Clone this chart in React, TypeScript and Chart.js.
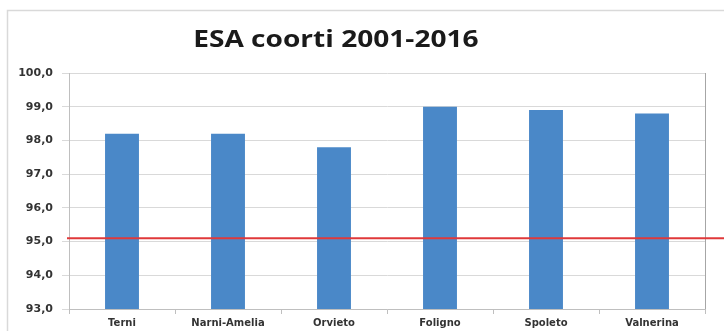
import React, { useEffect, useRef } from "react";
import { Chart, registerables } from "chart.js";

Chart.register(...registerables);

const TITLE = "ESA coorti 2001-2016";
const CATEGORIES = ["Terni", "Narni-Amelia", "Orvieto", "Foligno", "Spoleto", "Valnerina"];
const VALUES = [98.2, 98.2, 97.8, 99.0, 98.9, 98.8];
const THRESHOLD = 95.1;
const Y_MIN = 93;
const Y_MAX = 100;
const Y_STEP = 1;

const TITLE_FONT = "'Open Sans', Lato, sans-serif";
const TICK_FONT = "'DejaVu Sans', 'Open Sans', sans-serif";

export default function App() {
  const ref = useRef<HTMLCanvasElement | null>(null);

  useEffect(() => {
    if (!ref.current) return;
    const decor = {
      id: "decor",
      beforeDraw(chart: any) {
        const ctx = chart.ctx;
        ctx.save();
        ctx.fillStyle = "#ffffff";
        ctx.fillRect(0, 0, chart.width, chart.height);
        ctx.strokeStyle = "#d9d9d9";
        ctx.lineWidth = 1.5;
        ctx.strokeRect(7.5, 10.5, chart.width + 10, chart.height + 10);
        ctx.fillStyle = "#1a1a1a";
        ctx.font = "bold 24px " + TITLE_FONT;
        ctx.textAlign = "center";
        ctx.textBaseline = "middle";
        ctx.translate(chart.width * 0.464, 40);
        ctx.scale(1.17, 1);
        ctx.fillText(TITLE, 0, 0);
        ctx.restore();
      },
      afterDatasetsDraw(chart: any) {
        const ctx = chart.ctx;
        const a = chart.chartArea;
        const y = chart.scales.y.getPixelForValue(THRESHOLD);
        ctx.save();
        ctx.strokeStyle = "#a6a6a6";
        ctx.lineWidth = 1;
        ctx.beginPath();
        ctx.moveTo(Math.round(a.right) + 0.5, a.top);
        ctx.lineTo(Math.round(a.right) + 0.5, a.bottom);
        ctx.stroke();
        ctx.strokeStyle = "#e0393a";
        ctx.lineWidth = 2;
        ctx.beginPath();
        ctx.moveTo(a.left - 2, y);
        ctx.lineTo(chart.width, y);
        ctx.stroke();
        ctx.restore();
      },
    };

    const chart = new Chart(ref.current, {
      type: "bar",
      data: {
        labels: CATEGORIES,
        datasets: [
          {
            data: VALUES,
            backgroundColor: "#4a88c8",
            borderWidth: 0,
            categoryPercentage: 1,
            barPercentage: 0.32,
          },
        ],
      },
      options: {
        animation: false,
        responsive: false,
        layout: { padding: { left: 0, right: 19, top: 73, bottom: 0 } },
        plugins: { legend: { display: false }, title: { display: false }, tooltip: { enabled: false } },
        scales: {
          x: {
            grid: { offset: true, drawOnChartArea: false, tickLength: 5, color: "#bfbfbf" },
            border: { color: "#bfbfbf" },
            ticks: { color: "#333333", font: { family: TICK_FONT, size: 10, weight: "bold" }, padding: 3, maxRotation: 0, autoSkip: false },
            afterFit(s: any) { s.height = 22; },
          },
          y: {
            min: Y_MIN,
            max: Y_MAX,
            grid: { color: "#d9d9d9", tickLength: 7 },
            border: { color: "#bfbfbf" },
            ticks: {
              stepSize: Y_STEP,
              color: "#333333",
              font: { family: TICK_FONT, size: 11, weight: "bold" },
              padding: 9,
              callback: (v: any) => Number(v).toFixed(1).replace(".", ","),
            },
            afterFit(s: any) { s.width = 69; },
          },
        },
      },
      plugins: [decor],
    });
    return () => chart.destroy();
  }, []);

  return (
    <div style={{ position: "fixed", left: 0, top: 0, width: 724, height: 331 }}>
      <canvas ref={ref} width={724} height={331} style={{ display: "block", width: 724, height: 331 }} />
    </div>
  );
}
